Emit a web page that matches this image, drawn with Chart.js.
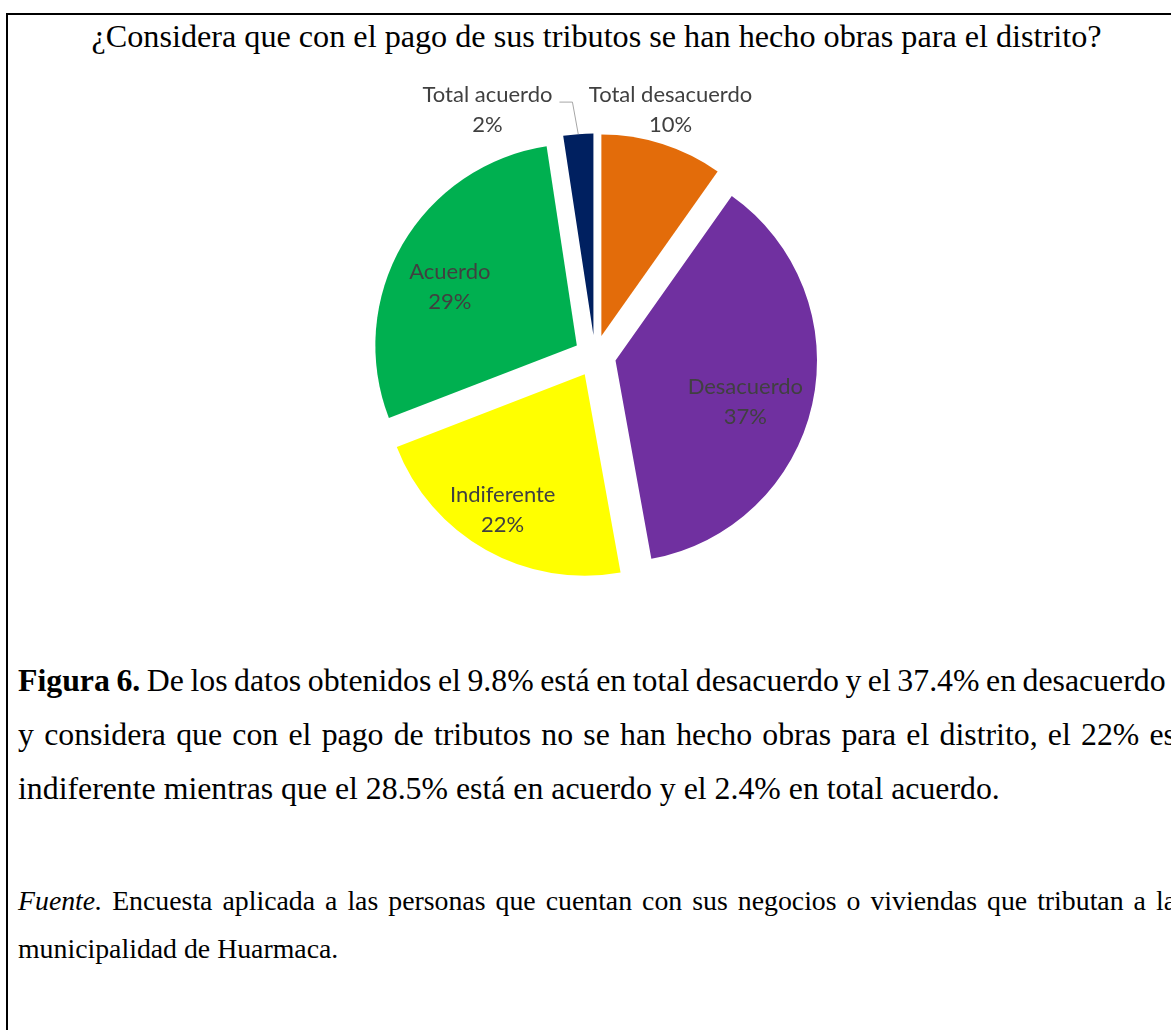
<!DOCTYPE html>
<html>
<head>
<meta charset="utf-8">
<script src="https://cdn.jsdelivr.net/npm/chart.js@4"></script>
<style>
  html, body { margin:0; padding:0; background:#fff; }
  body { width:1171px; height:1030px; overflow:hidden; position:relative; }
  .frameTop { position:absolute; left:6px; top:13px; width:1300px; height:2px; background:#000; }
  .frameLeft { position:absolute; left:6px; top:13px; width:2px; height:1100px; background:#000; }
  .serif { font-family:"Liberation Serif","Times New Roman",serif; color:#000; position:absolute; white-space:nowrap; line-height:1; }
  .title { left:0; width:1193px; text-align:center; font-size:32.2px; top:20px; }
  .cap { left:18px; width:1158px; font-size:31.8px; white-space:normal; }
  .capNo { left:18px; font-size:31.8px; white-space:nowrap; word-spacing:-1.4px; }
  .just { text-align:justify; text-align-last:justify; }
  .fu { left:18px; width:1158px; font-size:27.8px; white-space:normal; }
  #chartWrap { position:absolute; left:295px; top:56px; width:600px; height:600px; }
</style>
</head>
<body>
<div class="frameTop"></div>
<div class="frameLeft"></div>
<div class="serif title">¿Considera que con el pago de sus tributos se han hecho obras para el distrito?</div>
<div id="chartWrap"><canvas id="c" width="600" height="600"></canvas></div>
<div class="serif capNo" style="top:665.4px"><b>Figura 6.</b> De los datos obtenidos el 9.8% está en total desacuerdo y el 37.4% en desacuerdo</div>
<div class="serif cap just" style="top:719.4px">y considera que con el pago de tributos no se han hecho obras para el distrito, el 22% es</div>
<div class="serif cap" style="top:773.4px">indiferente mientras que el 28.5% está en acuerdo y el 2.4% en total acuerdo.</div>
<div class="serif fu just" style="top:886.7px"><i>Fuente.</i> Encuesta aplicada a las personas que cuentan con sus negocios o viviendas que tributan a la</div>
<div class="serif fu" style="top:934.7px">municipalidad de Huarmaca.</div>
<script>
// ---- data ----
const categories = ["Total desacuerdo", "Desacuerdo", "Indiferente", "Acuerdo", "Total acuerdo"];
const values = [9.8, 37.4, 22.0, 28.5, 2.4];
const sliceColors = ["#E36C0A", "#7030A0", "#FFFF00", "#00B050", "#002060"];

// ---- styling / layout ----
const EXPLODE = 21;          // px each slice is pulled out
const PIE_RADIUS = 201.5;    // px
// label placement relative to each exploded slice: radius factor and angle nudge (deg)
const labelPlacement = [
  { r: 1.173, dAngle: -0.6, leader: false },
  { r: 0.676, dAngle: 5.1, leader: false },
  { r: 0.788, dAngle: 1.8, leader: false },
  { r: 0.694, dAngle: -5.4, leader: false },
  { r: 1.234, dAngle: -20.9, leader: true }
];
const LABEL_FONT = '22px Lato, "Open Sans", sans-serif';
const LABEL_COLOR = '#404040';
const LINE_GAP = 15;

const explodePlugin = {
  id: 'explode',
  beforeDatasetDraw(chart, args) {
    const ctx = chart.ctx;
    args.meta.data.forEach(arc => {
      const mid = (arc.startAngle + arc.endAngle) / 2;
      ctx.save();
      ctx.translate(Math.cos(mid) * EXPLODE, Math.sin(mid) * EXPLODE);
      arc.draw(ctx);
      ctx.restore();
    });
    return false;
  }
};

const labelPlugin = {
  id: 'sliceLabels',
  afterDatasetsDraw(chart) {
    const ctx = chart.ctx;
    const meta = chart.getDatasetMeta(0);
    ctx.save();
    ctx.font = LABEL_FONT;
    ctx.fillStyle = LABEL_COLOR;
    ctx.textAlign = 'center';
    ctx.textBaseline = 'middle';
    meta.data.forEach((arc, i) => {
      const mid = (arc.startAngle + arc.endAngle) / 2;
      const cx = arc.x + Math.cos(mid) * EXPLODE;
      const cy = arc.y + Math.sin(mid) * EXPLODE;
      const p = labelPlacement[i];
      const a = mid + p.dAngle * Math.PI / 180;
      const r = arc.outerRadius * p.r;
      const lx = cx + Math.cos(a) * r;
      const ly = cy + Math.sin(a) * r;
      const pct = Math.round(values[i]) + '%';
      ctx.fillText(categories[i], lx, ly - LINE_GAP);
      ctx.fillText(pct, lx, ly + LINE_GAP);
      if (p.leader) {
        const w = ctx.measureText(categories[i]).width;
        const sx = lx + w / 2 + 7, sy = ly - 8;
        const ex = cx + Math.cos(mid) * arc.outerRadius;
        const ey = cy + Math.sin(mid) * arc.outerRadius;
        ctx.beginPath();
        ctx.strokeStyle = '#A6A6A6';
        ctx.lineWidth = 1;
        ctx.moveTo(sx, sy);
        ctx.lineTo(sx + 13, sy);
        ctx.lineTo(ex, ey);
        ctx.stroke();
      }
    });
    ctx.restore();
  }
};

new Chart(document.getElementById('c'), {
  type: 'pie',
  data: {
    labels: categories,
    datasets: [{
      data: values,
      backgroundColor: sliceColors,
      borderWidth: 0
    }]
  },
  options: {
    responsive: false,
    animation: false,
    radius: PIE_RADIUS,
    layout: { padding: 0 },
    events: [],
    plugins: {
      legend: { display: false },
      tooltip: { enabled: false },
      title: { display: false }
    }
  },
  plugins: [explodePlugin, labelPlugin]
});
</script>
</body>
</html>
